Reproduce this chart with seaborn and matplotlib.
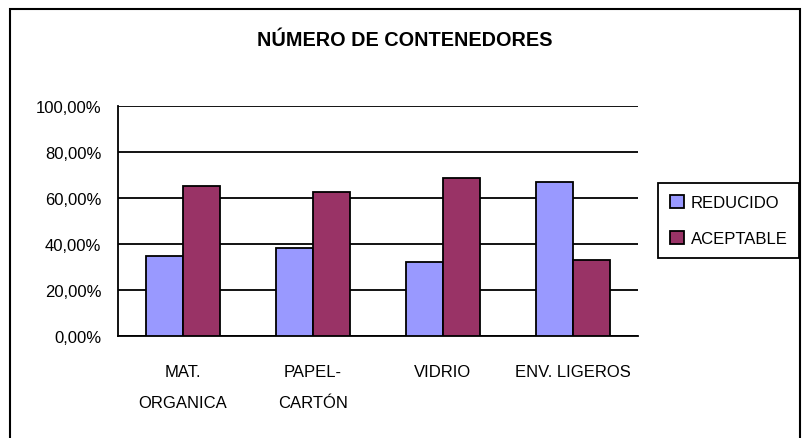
import matplotlib
matplotlib.use('Agg')
import matplotlib.pyplot as plt
import matplotlib.patches as mpatches
import matplotlib.ticker as mticker
import seaborn as sns
import pandas as pd

sns.set_style('white')
plt.rcParams['font.family'] = ['Liberation Sans', 'DejaVu Sans']
plt.rcParams['text.color'] = 'black'
plt.rcParams['xtick.color'] = 'black'
plt.rcParams['ytick.color'] = 'black'

COLOR_REDUCIDO = '#9999FF'
COLOR_ACEPTABLE = '#993366'

categorias = ['MAT.\nORGANICA', 'PAPEL-\nCARTÓN', 'VIDRIO', 'ENV. LIGEROS']
series = ['REDUCIDO', 'ACEPTABLE']
reducido = [0.348, 0.384, 0.322, 0.670]
aceptable = [0.652, 0.626, 0.686, 0.330]
y_ticks = [0.0, 0.2, 0.4, 0.6, 0.8, 1.0]

df = pd.DataFrame({
    'categoria': categorias * 2,
    'serie': [series[0]] * len(categorias) + [series[1]] * len(categorias),
    'valor': reducido + aceptable,
})

fig = plt.figure(figsize=(8.02, 4.39), dpi=100)
ax = fig.add_axes([0.1471, 0.2323, 0.6484, 0.5239])

sns.barplot(data=df, x='categoria', y='valor', hue='serie', order=categorias, hue_order=series,
            palette={'REDUCIDO': COLOR_REDUCIDO, 'ACEPTABLE': COLOR_ACEPTABLE},
            width=0.57, edgecolor='black', linewidth=1.3, saturation=1, ax=ax, zorder=3)

ax.set_xlim(-0.5, 3.5)
ax.set_ylim(0, 1.0)
ax.set_yticks(y_ticks)
ax.yaxis.set_major_formatter(mticker.FuncFormatter(lambda v, p: f'{v*100:.2f}%'.replace('.', ',')))
ax.set_xlabel('')
ax.set_ylabel('')
ax.grid(axis='y', color='black', linewidth=1.3, zorder=0)
ax.set_axisbelow(True)
for s in ['top', 'right']:
    ax.spines[s].set_visible(False)
for s in ['left', 'bottom']:
    ax.spines[s].set_color('black')
    ax.spines[s].set_linewidth(1.3)

ax.tick_params(axis='y', length=6, width=1.3, color='black', labelsize=12, pad=6)
ax.set_xticks(range(len(categorias)))
ax.set_xticklabels(categorias, linespacing=2.35)
ax.tick_params(axis='x', which='major', length=0, labelsize=12, pad=20)
ax.set_xticks([i - 0.5 for i in range(len(categorias) + 1)], minor=True)
ax.tick_params(axis='x', which='minor', length=5, width=1.3, color='black')

handles = [mpatches.Patch(facecolor=COLOR_REDUCIDO, edgecolor='black', linewidth=1.3, label=series[0]),
           mpatches.Patch(facecolor=COLOR_ACEPTABLE, edgecolor='black', linewidth=1.3, label=series[1])]
ax.legend(handles=handles, loc='upper left', bbox_to_anchor=(658 / 802, 1 - 184 / 439),
          bbox_transform=fig.transFigure, fontsize=12, frameon=True, fancybox=False,
          edgecolor='black', framealpha=1, handlelength=0.85, handleheight=0.85,
          handletextpad=0.4, borderpad=0.7, labelspacing=1.25, borderaxespad=0)
ax.get_legend().get_frame().set_linewidth(1.3)

fig.text(405 / 802, 1 - 40 / 439, 'NÚMERO DE CONTENEDORES', ha='center', va='center',
         fontsize=14.3, fontweight='bold')

fig.patches.append(mpatches.Rectangle((10 / 802, -0.05), 790 / 802, 1.05 - 10 / 439,
                                      transform=fig.transFigure, fill=False,
                                      edgecolor='black', linewidth=1.5))

fig.savefig('out.png', dpi=100)
